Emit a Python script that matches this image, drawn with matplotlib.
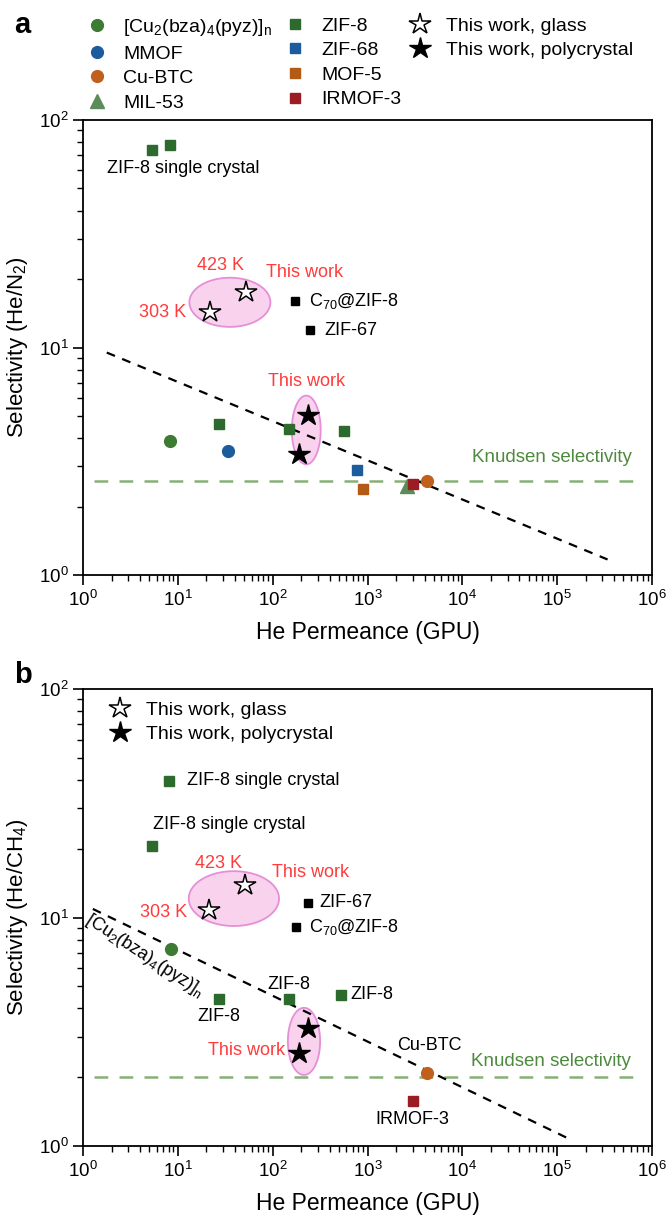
import numpy as np
import matplotlib
matplotlib.use("Agg")
import matplotlib.pyplot as plt

plt.rcParams['font.family'] = ['Liberation Sans', 'DejaVu Sans']
plt.rcParams['mathtext.default'] = 'regular'

# ---- panel a : He/N2 ----
cu2_a_x, cu2_a_y = [8.2], [3.9]
mmof_a_x, mmof_a_y = [34], [3.5]
cubtc_a_x, cubtc_a_y = [4200], [2.6]
mil53_a_x, mil53_a_y = [2600], [2.45]
zif8_a_x = [5.3, 8.3, 27, 150, 570]
zif8_a_y = [74, 77.5, 4.6, 4.4, 4.3]
zif68_a_x, zif68_a_y = [780], [2.9]
mof5_a_x, mof5_a_y = [900], [2.4]
irmof3_a_x, irmof3_a_y = [3000], [2.5]
glass_a_x, glass_a_y = [22, 52], [14.3, 17.5]
poly_a_x, poly_a_y = [188, 233], [3.4, 5.05]
c70_a_x, c70_a_y = [170], [16.0]
zif67_a_x, zif67_a_y = [250], [11.9]
trend_a_x, trend_a_y = [1.78, 340000], [9.5, 1.17]
knudsen_a = 2.6

# ---- panel b : He/CH4 ----
cu2_b_x, cu2_b_y = [8.5], [7.3]
zif8_b_x = [5.3, 8.1, 27, 148, 525]
zif8_b_y = [20.6, 39.6, 4.4, 4.4, 4.6]
cubtc_b_x, cubtc_b_y = [4200], [2.08]
irmof3_b_x, irmof3_b_y = [3000], [1.58]
glass_b_x, glass_b_y = [21.4, 51], [10.8, 13.9]
poly_b_x, poly_b_y = [188, 234], [2.55, 3.3]
c70_b_x, c70_b_y = [176], [9.1]
zif67_b_x, zif67_b_y = [234], [11.6]
trend_b_x, trend_b_y = [1.27, 143000], [10.9, 1.06]
knudsen_b = 2.0

GREEN = '#2d6a2d'
GREEN2 = '#3d7a33'
GREEN3 = '#5b8c5a'
BLUE = '#1c5b9c'
ORANGE = '#c0601c'
ORANGE2 = '#b35a14'
DRED = '#9c1c24'
RED = '#ff3b3b'
KGREEN = '#86b078'
KTEXT = '#4e8a3e'
PINK = '#f9d3ee'
PINKEDGE = '#e58fd8'

W, H = 670, 1217
fig = plt.figure(figsize=(W / 100, H / 100), dpi=100)


def px_axes(left, top, right, bottom):
    return fig.add_axes([left / W, 1 - bottom / H, (right - left) / W, (bottom - top) / H])


def bubble(ax, cx, cy, rx, ry):
    t = np.linspace(0, 2 * np.pi, 200)
    ex = 10 ** (np.log10(cx) + rx * np.cos(t))
    ey = 10 ** (np.log10(cy) + ry * np.sin(t))
    ax.fill(ex, ey, facecolor=PINK, edgecolor=PINKEDGE, lw=1.3, zorder=1)


def style(ax, ylabel):
    ax.set_xscale('log')
    ax.set_yscale('log')
    ax.set_xlim(1, 1e6)
    ax.set_ylim(1, 100)
    ax.set_xticks([1e0, 1e1, 1e2, 1e3, 1e4, 1e5, 1e6])
    ax.tick_params(which='major', length=7, width=1.2, labelsize=13.5, direction='out')
    ax.tick_params(which='minor', length=4, width=1.0, direction='out')
    for s in ax.spines.values():
        s.set_linewidth(1.3)
    ax.set_xlabel('He Permeance (GPU)', fontsize=16.5, labelpad=8)
    ax.set_ylabel(ylabel, fontsize=16, labelpad=6)


ms_sq, ms_c, ms_star = 7.5, 8.5, 16
txt = 13
RIGHT = 652

# ================= panel a =================
ax = px_axes(83, 120, RIGHT, 575)
style(ax, 'Selectivity (He/N$_2$)')

ax.axhline(knudsen_a, xmin=0.02, xmax=0.977, color=KGREEN, lw=1.8, dashes=(5.5, 4.5), zorder=2)
ax.plot(trend_a_x, trend_a_y, color='k', lw=1.6, dashes=(4, 3.5), zorder=2)
bubble(ax, 35.4, 15.8, 0.427, 0.108)
bubble(ax, 226, 4.34, 0.152, 0.151)

h_cu2, = ax.plot(cu2_a_x, cu2_a_y, 'o', color=GREEN2, ms=ms_c, ls='none', zorder=3)
h_mmof, = ax.plot(mmof_a_x, mmof_a_y, 'o', color=BLUE, ms=ms_c, ls='none', zorder=3)
h_cubtc, = ax.plot(cubtc_a_x, cubtc_a_y, 'o', color=ORANGE, ms=ms_c, ls='none', zorder=3)
h_mil, = ax.plot(mil53_a_x, mil53_a_y, '^', color=GREEN3, ms=ms_c + 1, ls='none', zorder=3)
h_zif8, = ax.plot(zif8_a_x, zif8_a_y, 's', color=GREEN, ms=ms_sq, ls='none', zorder=3)
h_zif68, = ax.plot(zif68_a_x, zif68_a_y, 's', color=BLUE, ms=ms_sq, ls='none', zorder=3)
h_mof5, = ax.plot(mof5_a_x, mof5_a_y, 's', color=ORANGE2, ms=ms_sq, ls='none', zorder=3)
h_irmof, = ax.plot(irmof3_a_x, irmof3_a_y, 's', color=DRED, ms=ms_sq, ls='none', zorder=4)
h_glass, = ax.plot(glass_a_x, glass_a_y, '*', mfc='white', mec='k', mew=1.1, ms=ms_star, ls='none', zorder=4)
h_poly, = ax.plot(poly_a_x, poly_a_y, '*', color='k', ms=ms_star, ls='none', zorder=4)
ax.plot(c70_a_x, c70_a_y, 's', color='k', ms=6, ls='none', zorder=3)
ax.plot(zif67_a_x, zif67_a_y, 's', color='k', ms=6, ls='none', zorder=3)

ax.text(1.8, 61.5, 'ZIF-8 single crystal', fontsize=txt, va='center', ha='left')
ax.text(28, 23, '423 K', color=RED, fontsize=txt, ha='center', va='center')
ax.text(215, 21.3, 'This work', color=RED, fontsize=txt, ha='center', va='center')
ax.text(12.3, 14.2, '303 K', color=RED, fontsize=txt, ha='right', va='center')
ax.text(240, 16.0, 'C$_{70}$@ZIF-8', fontsize=txt, ha='left', va='center')
ax.text(355, 11.9, 'ZIF-67', fontsize=txt, ha='left', va='center')
ax.text(227, 7.07, 'This work', color=RED, fontsize=txt, ha='center', va='center')
ax.text(89000, 3.27, 'Knudsen selectivity', color=KTEXT, fontsize=13.5, ha='center', va='center')

# legend at top, three columns placed by hand
leg_kw = dict(frameon=False, fontsize=14, handlelength=1.0, handletextpad=0.85,
              labelspacing=0.36, borderpad=0, borderaxespad=0, loc='upper left')
fig.legend([h_cu2, h_mmof, h_cubtc, h_mil],
           ['[Cu$_2$(bza)$_4$(pyz)]$_n$', 'MMOF', 'Cu-BTC', 'MIL-53'],
           bbox_to_anchor=(87 / W, 1 - 17 / H), **leg_kw)
fig.legend([h_zif8, h_zif68, h_mof5, h_irmof],
           ['ZIF-8', 'ZIF-68', 'MOF-5', 'IRMOF-3'],
           bbox_to_anchor=(285 / W, 1 - 17 / H), **leg_kw)
fig.legend([h_glass, h_poly], ['This work, glass', 'This work, polycrystal'],
           bbox_to_anchor=(410 / W, 1 - 17 / H), **leg_kw)

# ================= panel b =================
ax = px_axes(83, 689, RIGHT, 1146)
style(ax, 'Selectivity (He/CH$_4$)')

ax.axhline(knudsen_b, xmin=0.02, xmax=0.977, color=KGREEN, lw=1.8, dashes=(5.5, 4.5), zorder=2)
ax.plot(trend_b_x, trend_b_y, color='k', lw=1.6, dashes=(4, 3.5), zorder=2)
bubble(ax, 39, 12.1, 0.476, 0.12)
bubble(ax, 214, 2.87, 0.17, 0.147)

ax.plot(cu2_b_x, cu2_b_y, 'o', color=GREEN2, ms=ms_c, ls='none', zorder=3)
ax.plot(zif8_b_x, zif8_b_y, 's', color=GREEN, ms=ms_sq, ls='none', zorder=3)
ax.plot(cubtc_b_x, cubtc_b_y, 'o', color=ORANGE, ms=ms_c, ls='none', zorder=3)
ax.plot(irmof3_b_x, irmof3_b_y, 's', color=DRED, ms=ms_sq, ls='none', zorder=3)
hg, = ax.plot(glass_b_x, glass_b_y, '*', mfc='white', mec='k', mew=1.1, ms=ms_star, ls='none', zorder=4)
hp, = ax.plot(poly_b_x, poly_b_y, '*', color='k', ms=ms_star, ls='none', zorder=4)
ax.plot(c70_b_x, c70_b_y, 's', color='k', ms=6, ls='none', zorder=3)
ax.plot(zif67_b_x, zif67_b_y, 's', color='k', ms=6, ls='none', zorder=3)

ax.text(12.5, 39.6, 'ZIF-8 single crystal', fontsize=txt, ha='left', va='center')
ax.text(35, 25.4, 'ZIF-8 single crystal', fontsize=txt, ha='center', va='center')
ax.text(27, 17.3, '423 K', color=RED, fontsize=txt, ha='center', va='center')
ax.text(250, 15.8, 'This work', color=RED, fontsize=txt, ha='center', va='center')
ax.text(12.5, 10.5, '303 K', color=RED, fontsize=txt, ha='right', va='center')
ax.text(309, 11.6, 'ZIF-67', fontsize=txt, ha='left', va='center')
ax.text(240, 9.1, 'C$_{70}$@ZIF-8', fontsize=txt, ha='left', va='center')
ax.text(4.4, 6.8, '[Cu$_2$(bza)$_4$(pyz)]$_n$', fontsize=txt, ha='center', va='center',
        rotation=-33, rotation_mode='anchor')
ax.text(27, 3.67, 'ZIF-8', fontsize=txt, ha='center', va='center')
ax.text(150, 5.07, 'ZIF-8', fontsize=txt, ha='center', va='center')
ax.text(660, 4.6, 'ZIF-8', fontsize=txt, ha='left', va='center')
ax.text(135, 2.63, 'This work', color=RED, fontsize=txt, ha='right', va='center')
ax.text(4500, 2.75, 'Cu-BTC', fontsize=txt, ha='center', va='center')
ax.text(2950, 1.3, 'IRMOF-3', fontsize=txt, ha='center', va='center')
ax.text(85000, 2.35, 'Knudsen selectivity', color=KTEXT, fontsize=13.5, ha='center', va='center')

ax.legend([hg, hp], ['This work, glass', 'This work, polycrystal'], frameon=False, fontsize=14,
          handlelength=1.0, handletextpad=0.85, labelspacing=0.36, borderpad=0, borderaxespad=0,
          loc='upper left', bbox_to_anchor=(110 / W, 1 - 701 / H), bbox_transform=fig.transFigure)

fig.text(14 / W, 1 - 25 / H, 'a', fontsize=21, fontweight='bold', va='center', ha='left')
fig.text(14 / W, 1 - 675 / H, 'b', fontsize=21, fontweight='bold', va='center', ha='left')

fig.savefig('out.png', dpi=100)
